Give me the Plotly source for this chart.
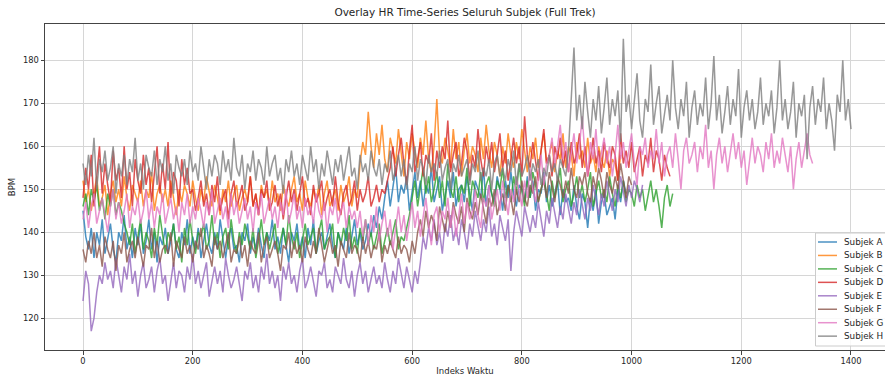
import plotly.graph_objects as go

# ---- data (one value every 5 time indices) ----
STEP = 5
subjects = ["Subjek A", "Subjek B", "Subjek C", "Subjek D",
            "Subjek E", "Subjek F", "Subjek G", "Subjek H"]
colors = ["#1f77b4", "#ff7f0e", "#2ca02c", "#d62728",
          "#9467bd", "#8c564b", "#e377c2", "#7f7f7f"]

hr_a = [145, 139, 136, 141, 134, 140, 137, 143, 135, 139,
        142, 136, 133, 140, 138, 144, 136, 139, 134, 141,
        137, 142, 135, 138, 143, 136, 140, 133, 139, 137,
        141, 135, 138, 142, 136, 134, 140, 137, 143, 135,
        139, 136, 141, 134, 138, 142, 137, 135, 140, 136,
        143, 138, 134, 139, 141, 136, 137, 133, 140, 138,
        142, 135, 139, 136, 141, 137, 134, 140, 138, 143,
        136, 139, 135, 141, 137, 133, 140, 138, 142, 136,
        139, 134, 141, 137, 143, 135, 138, 140, 136, 139,
        142, 137, 134, 140, 138, 136, 141, 135, 139, 143,
        137, 140, 136, 138, 142, 139, 144, 141, 146, 143,
        148, 152, 146, 150, 155, 147, 151, 149, 153, 145,
        150, 154, 148, 152, 146, 151, 149, 155, 147, 150,
        153, 145, 149, 152, 148, 154, 146, 150, 151, 147,
        153, 149, 145, 152, 150, 148, 155, 146, 151, 149,
        147, 153, 150, 145, 152, 148, 154, 149, 146, 151,
        150, 147, 153, 148, 152, 145, 150, 149, 154, 147,
        151, 146, 149, 152, 144, 150, 147, 148, 145, 151,
        146, 143, 149, 147, 141, 148, 145, 150, 142, 147,
        149, 144, 146, 148, 143, 150, 147, 152, 149]

hr_b = [152, 147, 150, 145, 149, 153, 146, 148, 151, 144,
        149, 152, 147, 150, 146, 153, 148, 145, 151, 149,
        147, 152, 146, 150, 148, 154, 145, 149, 151, 147,
        150, 146, 152, 148, 144, 150, 147, 151, 149, 146,
        152, 148, 145, 150, 147, 153, 149, 146, 151, 148,
        144, 150, 147, 152, 146, 149, 151, 145, 148, 150,
        147, 153, 146, 149, 144, 151, 148, 150, 146, 152,
        147, 149, 145, 151, 148, 146, 150, 153, 147, 149,
        145, 152, 148, 146, 150, 147, 151, 144, 149, 152,
        146, 148, 150, 145, 151, 147, 149, 153, 146, 150,
        148,
        156, 161, 158, 168, 160, 155, 163, 158, 165, 157,
        154, 162, 159, 156, 164, 158, 153, 161, 157, 163,
        159, 155, 162, 158, 166, 157, 154, 160, 171, 158,
        156, 162, 159, 155, 164, 157, 161, 153, 159, 163,
        156, 160, 158, 154, 162, 157, 165, 159, 155, 161,
        158, 153, 160, 156, 163, 158, 155, 161, 157, 164,
        159, 154, 160, 157, 162, 155, 159, 163, 156, 158,
        161, 154, 159, 157, 163, 155, 160, 158, 153, 161,
        157, 159, 155, 162, 156, 158, 154, 160, 157, 155,
        159, 153, 157, 156, 152, 158]

hr_c = [146, 149, 144, 150, 147, 151, 145, 148, 143, 149,
        146, 150, 144, 147, 145, 142,
        140, 137, 142, 135, 139, 143, 136, 140, 138, 134,
        141, 137, 144, 139, 135, 140, 138, 142, 136, 139,
        133, 141, 137, 143, 138, 135, 140, 139, 142, 136,
        138, 144, 137, 140, 134, 139, 141, 136, 143, 138,
        135, 140, 137, 142, 139, 136, 141, 134, 138, 143,
        137, 140, 136, 139, 142, 135, 138, 141, 137, 144,
        139, 136, 140, 134, 138, 142, 137, 139, 141, 135,
        140, 143, 136, 138, 139, 142, 134, 140, 137, 141,
        138, 144, 136, 139, 135, 141, 138, 143, 137, 140,
        136, 139, 142, 135, 138, 141, 137, 140, 143, 136,
        139, 138, 141, 144,
        148, 152, 146, 151, 155, 149, 153, 147, 150, 154,
        148, 152, 146, 156, 150, 148, 153, 147, 151, 149,
        155, 146, 152, 150, 148, 154, 147, 151, 153, 149,
        146, 152, 150, 155, 148, 151, 147, 153, 149, 156,
        150, 146, 152, 148, 154, 151, 147, 150, 153, 149,
        145, 152, 148, 151, 155, 147, 150, 152, 146, 149,
        153, 148, 151, 147, 150, 154, 146, 149, 152, 148,
        150, 147, 153, 149, 146, 151, 148, 152, 147, 150,
        149, 146, 151, 148, 150, 145, 149, 152, 147, 150,
        146, 141, 148, 151, 146, 149]

hr_d = [148, 155, 150, 158, 146, 153, 160, 149, 156, 151,
        147, 159, 152, 155, 148, 160, 150, 154, 146, 157,
        152, 149, 158, 151, 155, 147, 153, 160, 149, 156,
        150, 161, 148, 154, 152, 146, 157, 151, 155, 149,
        150, 145, 148, 152, 146, 149, 144, 151, 147, 153,
        145, 148, 150, 143, 149, 152, 146, 148, 151, 145,
        147, 153, 146, 149, 144, 150, 148, 152, 145, 147,
        151, 146, 149, 143, 148, 152, 147, 150, 145, 149,
        153, 146, 148, 144, 151, 147, 149, 152, 145, 148,
        150, 146, 153, 147, 144, 149, 151, 146, 148, 152,
        145, 150, 147, 149, 153, 146, 148, 151, 147, 150,
        149, 152,
        155, 160, 153, 158, 162, 156, 151, 159, 165, 154,
        157, 161, 153, 158, 156, 163, 152, 159, 155, 160,
        157, 166, 154, 158, 161, 153, 156, 162, 159, 152,
        158, 155, 164, 157, 153, 160, 156, 161, 154, 158,
        163, 155, 159, 152, 157, 162, 156, 160, 153, 167,
        158, 155, 161, 157, 152, 159, 164, 156, 158, 153,
        160, 157, 162, 155, 159, 154, 161, 156, 158, 163,
        155, 160, 153, 157, 162, 156, 159, 154, 161, 157,
        155, 160, 158, 152, 163, 156, 159, 155, 161, 154,
        157, 160, 153, 158, 156, 162, 154, 159, 157, 152,
        158, 155, 153]

hr_e = [124, 131, 128, 117, 120, 126, 130,
        128, 133, 129, 131, 127, 134, 130, 126, 132, 129,
        135, 128, 131, 125, 130, 133, 127, 129, 132, 126,
        131, 134, 128, 130, 124, 129, 133, 127, 131, 130,
        126, 132, 129, 135, 128, 131, 127, 130, 133, 125,
        129, 132, 128, 131, 126, 134, 130, 127, 129, 132,
        128, 124, 131, 129, 133, 127, 130, 126, 132, 129,
        135, 128, 131, 127, 130, 124, 132, 129, 133, 128,
        130, 126, 131, 134, 127, 129, 132, 128, 125, 131,
        130, 133, 127, 129, 126, 132, 130, 128, 134, 129,
        127, 131, 125, 130, 133, 128, 131, 126, 129, 132,
        128, 130, 127, 133, 129, 126, 131, 128, 134, 130,
        127, 132, 129, 126, 131, 128, 133,
        139, 136, 141, 138, 143, 137, 140, 135, 142, 139,
        144, 138, 141, 137, 143, 140, 136, 142, 139, 145,
        141, 138, 143, 140, 146, 139, 142, 137, 144, 141,
        138, 143, 131, 140, 145, 142, 139, 146, 143, 140,
        144, 141, 147, 143, 139, 145, 142, 148, 144, 141,
        146, 143, 149, 145, 142, 147, 144, 150, 146, 143,
        148, 145, 151, 147, 144, 149, 146, 152, 148, 145,
        150, 147, 153, 149, 146, 151, 148, 152, 150, 147,
        151]

hr_f = [136, 133, 138, 135, 140, 134, 137, 132, 139, 136,
        134, 138, 131, 137, 135, 140, 133, 136, 138, 134,
        139, 135, 132, 137, 136, 141, 134, 138, 133, 136,
        137, 135, 140, 132, 138, 136, 134, 139, 135, 137,
        133, 138, 136, 141, 134, 137, 135, 132, 139, 136,
        138, 134, 137, 140, 133, 136, 135, 139, 134, 137,
        132, 138, 136, 135, 140, 133, 137, 139, 134, 136,
        138, 135, 131, 137, 136, 140, 134, 138, 135, 137,
        133, 139, 136, 134, 138, 135, 141, 137, 133, 136,
        139, 135, 137, 132, 138, 136, 134, 140, 135, 137,
        136, 133, 139, 135, 138, 134, 137, 136, 140, 133,
        137, 135, 138, 136, 134, 139, 135, 137, 136, 133,
        138, 135,
        140, 143, 139, 145, 141, 144, 142, 138, 146, 143,
        140, 145, 141, 147, 144, 142, 146, 140, 148, 145,
        143, 147, 144, 149, 145, 142, 148, 146, 150, 144,
        147, 149, 145, 151, 148, 144, 150, 147, 152, 148,
        146, 151, 149, 153, 147, 150, 152, 148, 154, 150,
        147, 153, 151, 148, 152, 149, 155, 150, 148, 153,
        151, 154, 149, 147, 153, 150, 155, 152, 148, 154,
        151, 149, 153, 150, 156, 152, 148, 153, 151]

hr_g = [143, 147, 141, 146, 149, 142, 145, 148, 144, 140,
        146, 150, 143, 147, 142, 145, 149, 141, 146, 144,
        148, 142, 145, 150, 143, 147, 141, 146, 144, 149,
        142, 145, 148, 143, 146, 140, 147, 144, 149, 142,
        146, 143, 148, 145, 141, 147, 144, 150, 142, 145,
        148, 143, 146, 141, 149, 144, 147, 142, 145, 148,
        143, 146, 140, 147, 144, 149, 142, 145, 148, 143,
        146, 141, 147, 144, 150, 142, 145, 149, 143, 146,
        141, 148, 144, 146, 142, 149, 145, 143, 147, 140,
        146, 144, 148, 142, 145, 147, 141, 146, 143, 145,
        141, 145, 139, 143, 137, 144, 140, 146, 138, 142,
        145, 139, 143, 136, 141, 146, 140, 144, 138, 142,
        147, 141, 145, 139, 143, 148, 142, 137, 144, 146,
        140, 145, 143, 148, 141, 146, 139, 144, 149, 142,
        147, 143, 145, 150, 144, 141, 148, 146, 151, 143,
        147, 150, 145, 152, 148, 144, 150, 147, 153, 149,
        146, 152, 148, 155, 150, 147, 153, 158, 151, 156,
        158, 162, 155, 160, 165, 157, 161, 154, 159, 163,
        156, 160, 167, 158, 153, 161, 157, 164, 155, 159,
        162, 156, 160, 153, 158, 165, 157, 161, 155, 159,
        163, 156, 151, 160, 158, 162, 155, 159, 157, 164,
        156, 161, 153, 158, 160, 155, 163, 157, 150, 159,
        162, 156, 158, 161, 154, 160, 157, 165, 155, 159,
        150, 158, 162, 156, 160, 154, 158, 163, 157, 161,
        155, 159, 151, 157, 162, 156, 160, 158, 154, 161,
        157, 163, 155, 159, 156, 162, 158, 154, 160, 150,
        157, 161, 155, 159, 163, 158, 156]

hr_h = [156, 151, 158, 153, 162, 150, 157, 154, 159, 152,
        155, 160, 149, 156, 153, 158, 151, 157, 154, 162,
        152, 156, 150, 158, 155, 153, 159, 151, 157, 154,
        160, 152, 156, 149, 158, 155, 153, 157, 151, 159,
        154, 156, 152, 160, 155, 150, 157, 153, 158, 156,
        151, 159, 154, 157, 152, 162, 155, 153, 158, 150,
        156, 154, 159, 152, 157, 155, 151, 160, 153, 156,
        158, 152, 155, 149, 157, 154, 159, 153, 156, 151,
        158, 155, 152, 160, 154, 157, 150, 156, 153, 159,
        155, 151, 157, 154, 158, 152, 156, 160, 153, 155,
        150, 158, 154, 156, 152, 159, 155, 153, 157, 151,
        156, 154, 159, 152, 155, 158, 153, 157, 150, 156,
        154, 160, 152, 157, 155, 151, 158, 154, 156, 153,
        159, 152, 155, 157, 150, 156, 154, 158, 153, 155,
        157, 151, 156, 154, 159, 152, 155, 153, 157, 150,
        156, 158, 153, 155, 152, 157, 154, 159, 151, 156,
        153, 155, 158, 152, 156, 154, 157, 151, 155, 153,
        158, 154, 156, 152, 157, 155, 153, 159,
        170, 183, 166, 172, 164, 175, 168, 162, 171, 166,
        174, 163, 169, 176, 165, 171, 167, 173, 161, 185,
        168, 172, 164, 170, 177, 166, 162, 171, 168, 179,
        165, 170, 174, 163, 168, 172, 166, 180, 169, 164,
        171, 167, 175, 162, 169, 173, 165, 170, 167, 176,
        164, 170, 181, 166, 172, 163, 168, 174, 165, 171,
        167, 178, 162, 169, 173, 166, 171, 164, 168, 176,
        165, 170, 167, 173, 163, 169, 180, 166, 171, 164,
        168, 175, 162, 170, 167, 172, 157, 169, 174, 165,
        171, 168, 176, 164, 170, 166, 159, 172, 168, 180,
        166, 171, 164]

series = [hr_a, hr_b, hr_c, hr_d, hr_e, hr_f, hr_g, hr_h]

x_ticks = [0, 200, 400, 600, 800, 1000, 1200, 1400]
y_ticks = [120, 130, 140, 150, 160, 170, 180]

FONT = "DejaVu Sans"
W, H = 885, 376
L, R, T, B = 45, 0, 24, 26

fig = go.Figure()
for name, col, vals in zip(subjects, colors, series):
    idx = list(range(0, STEP * len(vals), STEP))
    fig.add_trace(go.Scatter(x=idx, y=vals, mode="lines", name=name,
                             line=dict(color=col, width=1.5), opacity=0.8,
                             showlegend=False, hoverinfo="skip"))

# ---- manual legend (matplotlib-style compact box) ----
pw, ph = W - L - R, H - T - B
def px(xp):
    return (xp - L) / pw
def py(yp):
    return (H - B - yp) / ph

shapes = [dict(type="rect", xref="paper", yref="paper",
               x0=px(815.5), x1=px(900), y0=py(346), y1=py(233),
               fillcolor="rgba(255,255,255,0.85)",
               line=dict(color="#cccccc", width=1), layer="above")]
annotations = []
for i, (name, col) in enumerate(zip(subjects, colors)):
    yc = 242 + 13.45 * i
    shapes.append(dict(type="line", xref="paper", yref="paper",
                       x0=px(818), x1=px(837), y0=py(yc), y1=py(yc),
                       line=dict(color=col, width=1.5), opacity=0.8,
                       layer="above"))
    annotations.append(dict(xref="paper", yref="paper", x=px(842), y=py(yc),
                            text=name, showarrow=False, xanchor="left",
                            yanchor="middle",
                            font=dict(family=FONT, size=8.8, color="#262626")))

fig.update_layout(
    width=W, height=H,
    margin=dict(l=L, r=R, t=T, b=B, autoexpand=False),
    paper_bgcolor="white", plot_bgcolor="white",
    font=dict(family=FONT, size=8.3, color="#262626"),
    title=dict(text="Overlay HR Time-Series Seluruh Subjek (Full Trek)",
               x=0.5, xref="paper", y=1 - 12 / H, yref="container",
               xanchor="center", yanchor="middle",
               font=dict(family=FONT, size=10.5, color="#262626")),
    shapes=shapes, annotations=annotations,
    showlegend=False,
)
fig.update_xaxes(range=[-69.3, 1462], tickvals=x_ticks,
                 ticktext=[str(v) for v in x_ticks],
                 showgrid=True, gridcolor="#d6d6d6", gridwidth=1,
                 zeroline=False, showline=True, linecolor="#444444",
                 linewidth=1, mirror=True, ticks="outside", ticklen=3.5,
                 tickcolor="#444444", automargin=False,
                 title=dict(text="Indeks Waktu", standoff=3,
                            font=dict(family=FONT, size=8.5)))
fig.update_yaxes(range=[112.6, 188.46], tickvals=y_ticks,
                 ticktext=[str(v) for v in y_ticks],
                 showgrid=True, gridcolor="#d6d6d6", gridwidth=1,
                 zeroline=False, showline=True, linecolor="#444444",
                 linewidth=1, mirror=True, ticks="outside", ticklen=3.5,
                 tickcolor="#444444", automargin=False,
                 title=dict(text="BPM", standoff=6,
                            font=dict(family=FONT, size=8.5)))

fig.write_html("out.html", config={"displayModeBar": False},
               post_script="document.body.style.margin='0px';")
